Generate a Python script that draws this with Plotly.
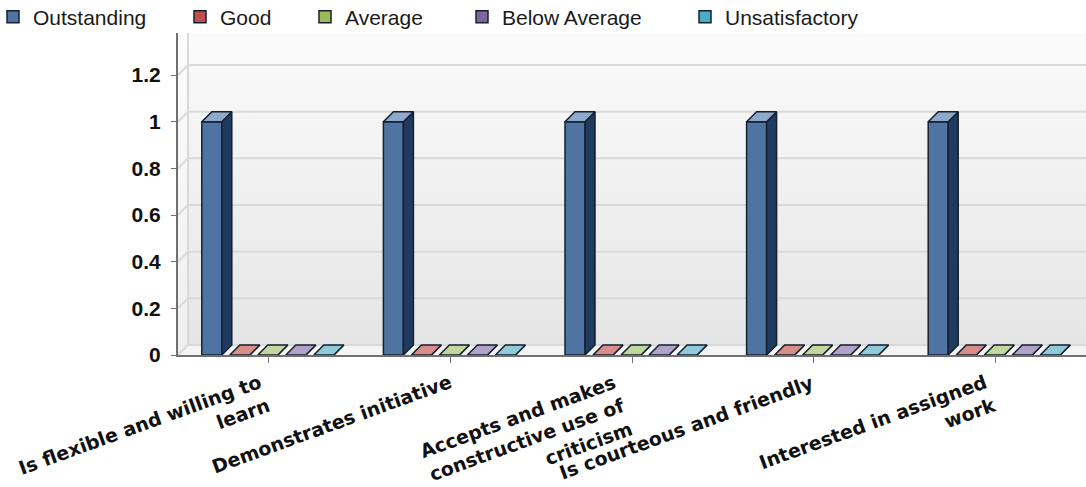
import plotly.graph_objects as go

# ---- data -------------------------------------------------------------
categories = [
    "Is flexible and willing to<br>learn",
    "Demonstrates initiative",
    "Accepts and makes<br>constructive use of<br>criticism",
    "Is courteous and friendly",
    "Interested in assigned<br>work",
]
series_names = ["Outstanding", "Good", "Average", "Below Average", "Unsatisfactory"]
outstanding = [1, 1, 1, 1, 1]
good = [0, 0, 0, 0, 0]
average = [0, 0, 0, 0, 0]
below_average = [0, 0, 0, 0, 0]
unsatisfactory = [0, 0, 0, 0, 0]
y_ticks = [0, 0.2, 0.4, 0.6, 0.8, 1.0, 1.2]
y_tick_labels = ["0", "0.2", "0.4", "0.6", "0.8", "1", "1.2"]

series_values = [outstanding, good, average, below_average, unsatisfactory]

# ---- styling ----------------------------------------------------------
front_colors = ["#4f74a4", "#c0504d", "#9bbb59", "#8064a2", "#4bacc6"]
side_colors = ["#1f3b60", "#8c3836", "#71893f", "#5c4876", "#337e92"]
top_colors = ["#8ea9cb", "#d98d8b", "#c3d69b", "#b2a2c8", "#8fcadb"]
legend_text_px = [33, 220, 345, 502, 725]
edge = "#14202e"
FONT = "Liberation Sans, Arial, sans-serif"
LABEL_FONT = "DejaVu Sans, Verdana, sans-serif"

W, H = 1086, 487
ML, MR, MT, MB = 178, 0, 33, 132
X_RANGE = [-0.5, 4.5]
Y_RANGE = [0, 1.38]
px_x = (W - ML - MR) / (X_RANGE[1] - X_RANGE[0])
px_y = (H - MT - MB) / (Y_RANGE[1] - Y_RANGE[0])
DX = 10 / px_x           # 3-D depth, horizontal
DY = 10 / px_y           # 3-D depth, vertical
BAR_W = 20 / px_x
SLOT = 28 / px_x
FIRST_LEFT = -67 / px_x

fig = go.Figure()

# ---- chart box on the base axes (drawn underneath) ---------------------
x0, x1 = X_RANGE
fig.add_trace(go.Scatter(
    x=[x0 + DX, x1, x1, x0 + DX, x0 + DX],
    y=[DY, DY, Y_RANGE[1], Y_RANGE[1], DY],
    mode="lines", line=dict(width=0), fill="toself",
    fillgradient=dict(type="vertical",
                      colorscale=[[0, "#e5e5e5"], [1, "#fbfbfb"]]),
    hoverinfo="skip", showlegend=False))

fig.add_trace(go.Scatter(
    x=[x0, x0 + DX, x0 + DX, x0, x0],
    y=[0, DY, Y_RANGE[1], Y_RANGE[1], 0],
    mode="lines", line=dict(width=0), fill="toself",
    fillgradient=dict(type="vertical",
                      colorscale=[[0, "#eeeeee"], [1, "#fdfdfd"]]),
    hoverinfo="skip", showlegend=False))

fig.add_trace(go.Scatter(
    x=[x0, x1, x1, x0 + DX, x0],
    y=[0, 0, DY, DY, 0],
    mode="lines", line=dict(width=0), fill="toself", fillcolor="#f4f4f4",
    hoverinfo="skip", showlegend=False))

gx, gy = [], []
for v in y_ticks:
    gx += [x0, x0 + DX, x1, None]
    gy += [v, v + DY, v + DY, None]
gx += [x0 + DX, x0 + DX]
gy += [DY, Y_RANGE[1]]
fig.add_trace(go.Scatter(x=gx, y=gy, mode="lines",
                         line=dict(color="#d9d9d9", width=2),
                         hoverinfo="skip", showlegend=False))

# ---- bars on an overlaying axis pair so they sit above the box ---------
for k, (name, vals) in enumerate(zip(series_names, series_values)):
    lefts = [i + FIRST_LEFT + k * SLOT for i in range(len(categories))]
    centers = [l + BAR_W / 2 for l in lefts]
    fig.add_trace(go.Bar(
        x=centers, y=vals, width=BAR_W, name=name,
        xaxis="x2", yaxis="y2",
        marker=dict(color=front_colors[k], line=dict(color=edge, width=1.5)),
        legend="legend" if k == 0 else f"legend{k + 1}",
        hovertext=[c.replace("<br>", " ") for c in categories],
    ))
    sx, sy, tx, ty = [], [], [], []
    for l, v in zip(lefts, vals):
        r = l + BAR_W
        sx += [r, r + DX, r + DX, r, r, None]
        sy += [0, DY, v + DY, v, 0, None]
        tx += [l, r, r + DX, l + DX, l, None]
        ty += [v, v, v + DY, v + DY, v, None]
    fig.add_trace(go.Scatter(x=sx, y=sy, xaxis="x2", yaxis="y2",
                             mode="lines", fill="toself",
                             fillcolor=side_colors[k],
                             line=dict(color=edge, width=1.5),
                             hoverinfo="skip", showlegend=False))
    fig.add_trace(go.Scatter(x=tx, y=ty, xaxis="x2", yaxis="y2",
                             mode="lines", fill="toself",
                             fillcolor=top_colors[k],
                             line=dict(color=edge, width=1.5),
                             hoverinfo="skip", showlegend=False))

# ---- slanted category labels, top-right corner hung under each tick ----
annotations = [
    dict(x=i, xref="x", y=0, yref="paper", yshift=-13, xshift=6,
         text=c, textangle=-20, showarrow=False,
         xanchor="right", yanchor="top", align="right",
         font=dict(family=LABEL_FONT, size=19, weight="bold", color="#111"))
    for i, c in enumerate(categories)
]

# ---- one single-entry legend per series, in a row above the plot -------
plot_w = W - ML - MR
plot_h = H - MT - MB
legend_y = (H - MB - 17) / plot_h
legends = {}
for k, tx_px in enumerate(legend_text_px):
    key = "legend" if k == 0 else f"legend{k + 1}"
    legends[key] = dict(
        x=(tx_px - 40 - ML) / plot_w, y=legend_y,
        xanchor="left", yanchor="middle", orientation="h",
        bgcolor="rgba(0,0,0,0)", borderwidth=0,
        font=dict(family=FONT, size=21, color="#1a1a1a"),
        itemwidth=30, itemclick=False, itemdoubleclick=False,
    )

fig.update_layout(
    width=W, height=H,
    margin=dict(l=ML, r=MR, t=MT, b=MB, autoexpand=False),
    paper_bgcolor="white", plot_bgcolor="white",
    barmode="overlay", showlegend=True,
    font=dict(family=FONT, color="#111"),
    annotations=annotations,
    xaxis=dict(
        range=X_RANGE, tickvals=list(range(len(categories))),
        showticklabels=False, showgrid=False, zeroline=False,
        showline=True, linecolor="#707070", linewidth=2,
        ticks="outside", ticklen=6, tickcolor="#707070",
        automargin=False, fixedrange=True,
    ),
    yaxis=dict(
        range=Y_RANGE, tickvals=y_ticks, ticktext=y_tick_labels,
        showgrid=False, zeroline=False,
        showline=True, linecolor="#707070", linewidth=2,
        ticks="outside", ticklen=5, tickcolor="#707070",
        ticklabelstandoff=6,
        tickfont=dict(size=21, weight="bold", color="#111"),
        automargin=False, fixedrange=True,
    ),
    xaxis2=dict(range=X_RANGE, overlaying="x", visible=False, fixedrange=True),
    yaxis2=dict(range=Y_RANGE, overlaying="y", visible=False, fixedrange=True),
    **legends,
)

fig.write_html("out.html")
